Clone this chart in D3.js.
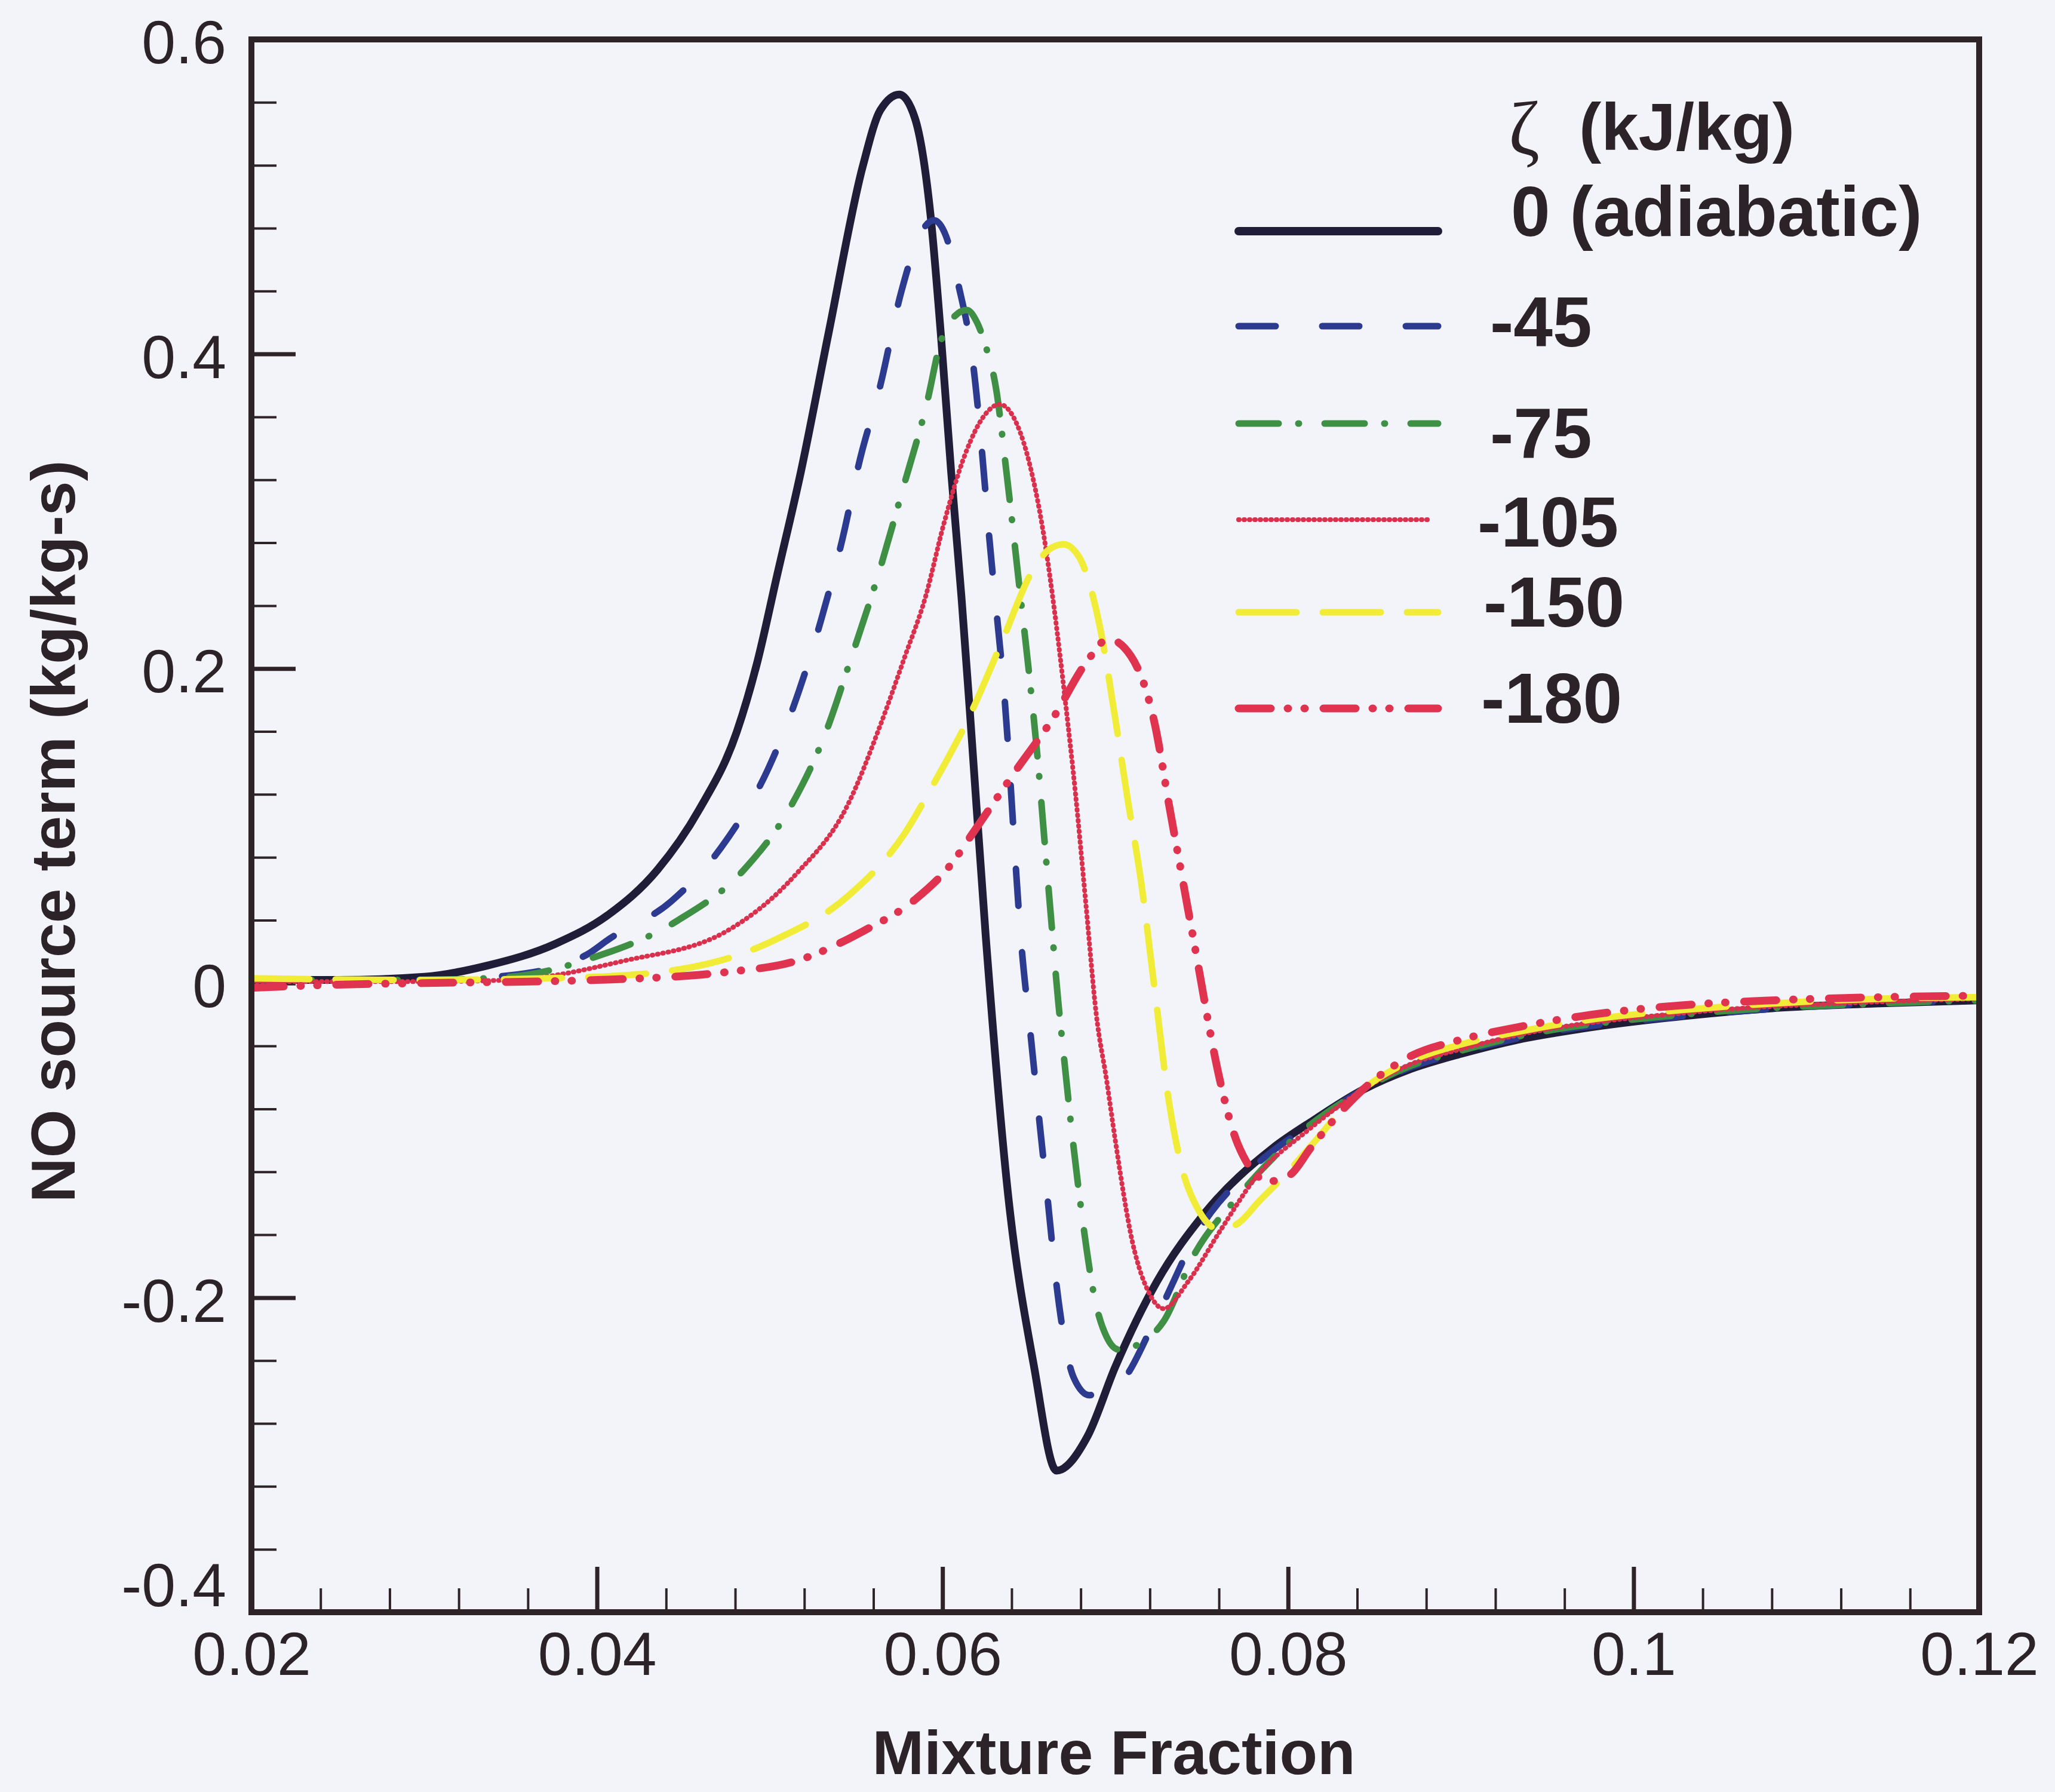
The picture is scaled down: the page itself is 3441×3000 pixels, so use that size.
<!DOCTYPE html>
<html><head><meta charset="utf-8">
<script src="https://cdn.jsdelivr.net/npm/d3@7"></script>
<style>
html,body{margin:0;padding:0;background:#f3f4f9;}
svg{display:block;}
</style></head><body>
<svg id="chart" width="3441" height="3000"></svg>
<script>
// ---------------- DATA ----------------
const xTickValues = [0.02, 0.04, 0.06, 0.08, 0.10, 0.12];
const xTickLabels = ["0.02", "0.04", "0.06", "0.08", "0.1", "0.12"];
const yTickValues = [0.6, 0.4, 0.2, 0, -0.2, -0.4];
const yTickLabels = ["0.6", "0.4", "0.2", "0", "-0.2", "-0.4"];
const xAxisTitle = "Mixture Fraction";
const yAxisTitle = "NO source term (kg/kg-s)";
const legendTitleSymbol = "ζ";
const legendTitleUnit = "(kJ/kg)";
const seriesNames = ["0 (adiabatic)", "-45", "-75", "-105", "-150", "-180"];

const adiabaticX = [0.020, 0.025, 0.030, 0.0336, 0.0376, 0.0406, 0.0435, 0.0459, 0.0481, 0.0493, 0.0504, 0.0518, 0.0534, 0.0554, 0.0564, 0.0575, 0.0584, 0.0593, 0.0599, 0.0605, 0.0611, 0.0616, 0.0625, 0.0638, 0.0653, 0.0666, 0.0684, 0.0700, 0.0724, 0.0752, 0.0791, 0.0815, 0.0843, 0.0870, 0.0900, 0.0933, 0.0970, 0.1029, 0.1080, 0.1140, 0.1200];
const adiabaticY = [0.002, 0.002, 0.004, 0.011, 0.025, 0.043, 0.072, 0.110, 0.160, 0.205, 0.258, 0.325, 0.413, 0.520, 0.555, 0.565, 0.550, 0.489, 0.413, 0.325, 0.245, 0.170, 0.030, -0.135, -0.244, -0.310, -0.288, -0.244, -0.190, -0.146, -0.105, -0.087, -0.068, -0.055, -0.045, -0.036, -0.029, -0.021, -0.016, -0.013, -0.011];

const m45X = [0.020, 0.030, 0.035, 0.0394, 0.0407, 0.0443, 0.0475, 0.0499, 0.0517, 0.0530, 0.0542, 0.0552, 0.0564, 0.0576, 0.0588, 0.0595, 0.0602, 0.0609, 0.0618, 0.0623, 0.0627, 0.0636, 0.0646, 0.0651, 0.0656, 0.0661, 0.0666, 0.0676, 0.0685, 0.0702, 0.0724, 0.0748, 0.0780, 0.0810, 0.0843, 0.0870, 0.0900, 0.0933, 0.1029, 0.1140, 0.1200];
const m45Y = [0.002, 0.002, 0.005, 0.018, 0.028, 0.052, 0.091, 0.136, 0.186, 0.232, 0.282, 0.332, 0.380, 0.439, 0.478, 0.485, 0.475, 0.445, 0.391, 0.336, 0.284, 0.180, 0.020, -0.033, -0.087, -0.139, -0.192, -0.251, -0.262, -0.255, -0.212, -0.158, -0.117, -0.092, -0.068, -0.054, -0.044, -0.035, -0.021, -0.013, -0.011];

const m75X = [0.020, 0.030, 0.035, 0.0396, 0.0447, 0.0485, 0.0513, 0.0533, 0.0546, 0.0564, 0.0577, 0.0591, 0.0599, 0.0607, 0.0614, 0.0620, 0.0625, 0.0631, 0.0637, 0.0645, 0.0650, 0.0655, 0.0659, 0.0663, 0.0667, 0.0670, 0.0675, 0.0681, 0.0688, 0.0695, 0.0702, 0.0716, 0.0728, 0.0745, 0.0770, 0.0800, 0.0843, 0.0870, 0.0900, 0.0933, 0.1029, 0.1140, 0.1200];
const m75Y = [0.002, 0.002, 0.004, 0.0156, 0.040, 0.072, 0.114, 0.161, 0.203, 0.264, 0.314, 0.369, 0.408, 0.424, 0.428, 0.420, 0.405, 0.378, 0.325, 0.247, 0.198, 0.1435, 0.091, 0.039, -0.012, -0.044, -0.096, -0.150, -0.200, -0.225, -0.233, -0.228, -0.215, -0.174, -0.137, -0.102, -0.068, -0.053, -0.043, -0.034, -0.020, -0.013, -0.011];

const m105X = [0.020, 0.030, 0.035, 0.0415, 0.0475, 0.0515, 0.0545, 0.0564, 0.0578, 0.0590, 0.0601, 0.0613, 0.0625, 0.0633, 0.0641, 0.0649, 0.0659, 0.0665, 0.0671, 0.0677, 0.0683, 0.0689, 0.0695, 0.0700, 0.0710, 0.0720, 0.0728, 0.0742, 0.0761, 0.0781, 0.0811, 0.0843, 0.0870, 0.0900, 0.0933, 0.1029, 0.1140, 0.1200];
const m105Y = [0.001, 0.001, 0.002, 0.014, 0.033, 0.069, 0.113, 0.164, 0.207, 0.245, 0.293, 0.336, 0.362, 0.368, 0.360, 0.336, 0.282, 0.235, 0.180, 0.120, 0.050, -0.020, -0.062, -0.100, -0.165, -0.198, -0.207, -0.190, -0.157, -0.124, -0.094, -0.068, -0.052, -0.042, -0.033, -0.019, -0.012, -0.010];

const m150X = [0.020, 0.030, 0.040, 0.0465, 0.0505, 0.0545, 0.0578, 0.0594, 0.0614, 0.0634, 0.0652, 0.0662, 0.0670, 0.0679, 0.0691, 0.0700, 0.0707, 0.0715, 0.0723, 0.0731, 0.0738, 0.0748, 0.0761, 0.0772, 0.0783, 0.0800, 0.0816, 0.0830, 0.0843, 0.0870, 0.0900, 0.0933, 0.0970, 0.1029, 0.1080, 0.1140, 0.1200];
const m150Y = [0.003, 0.002, 0.004, 0.0125, 0.0285, 0.055, 0.095, 0.125, 0.166, 0.216, 0.262, 0.276, 0.279, 0.271, 0.227, 0.168, 0.118, 0.064, -0.006, -0.075, -0.115, -0.144, -0.157, -0.152, -0.139, -0.120, -0.100, -0.082, -0.068, -0.050, -0.039, -0.031, -0.024, -0.017, -0.013, -0.010, -0.009];

const m180X = [0.020, 0.025, 0.030, 0.040, 0.0475, 0.0515, 0.0554, 0.0584, 0.0606, 0.0617, 0.0643, 0.0664, 0.0683, 0.0696, 0.0709, 0.0723, 0.0731, 0.0740, 0.0749, 0.0754, 0.0760, 0.0771, 0.0789, 0.0801, 0.0813, 0.0828, 0.0843, 0.0870, 0.0900, 0.0933, 0.0970, 0.1029, 0.1080, 0.1140, 0.1200];
const m180Y = [-0.003, -0.001, 0.000, 0.002, 0.007, 0.014, 0.033, 0.053, 0.077, 0.0945, 0.136, 0.1685, 0.2035, 0.2187, 0.208, 0.164, 0.114, 0.0595, 0.005, -0.026, -0.059, -0.1026, -0.126, -0.122, -0.105, -0.085, -0.068, -0.047, -0.036, -0.028, -0.021, -0.014, -0.011, -0.009, -0.008];

// ---------------- LAYOUT / STYLE ----------------
const W = 3441, H = 3000;
const PL = 421, PR = 3314, PT = 66, PB = 2699;
const FONT = "'Liberation Sans', Arial, Helvetica, sans-serif";
const TXT = "#2b2327", AX = "#2e2428", BG = "#f3f4f9";

const styles = [
  {color: "#1f1d38", width: 13, dash: null},
  {color: "#2c3a8f", width: 11, dash: "62,78"},
  {color: "#3f8f45", width: 11, dash: "67,33,1,43"},
  {color: "#d8304d", width: 8,  dash: "1,8"},
  {color: "#f0ec38", width: 11, dash: "97,44"},
  {color: "#e0334f", width: 13, dash: "54,28,1,27,1,31"}
];
const seriesX = [adiabaticX, m45X, m75X, m105X, m150X, m180X];
const seriesY = [adiabaticY, m45Y, m75Y, m105Y, m150Y, m180Y];

const legendLineY = [387, 546, 709, 870, 1025, 1186];
const legendTextX = [2530, 2495, 2495, 2474, 2484, 2480];
const legendTextY = [395, 580, 766, 915, 1049, 1210];

const svg = d3.select('#chart');
svg.append('rect').attr('width', W).attr('height', H).attr('fill', BG);

const x = d3.scaleLinear().domain([0.02, 0.12]).range([PL, PR]);
const y = d3.scaleLinear().domain([-0.4, 0.6]).range([PB, PT]);

// clip
svg.append('clipPath').attr('id', 'clip').append('rect')
  .attr('x', PL).attr('y', PT).attr('width', PR - PL).attr('height', PB - PT);

// minor ticks
const xMinor = d3.range(0, 26).map(i => +(0.02 + i * 0.004).toFixed(4)).filter(v => !xTickValues.some(t => Math.abs(t - v) < 1e-9));
const yMinor = d3.range(0, 26).map(i => +(-0.4 + i * 0.04).toFixed(4)).filter(v => !yTickValues.some(t => Math.abs(t - v) < 1e-9));

const gxMinor = svg.append('g').attr('transform', `translate(0,${PB})`)
  .call(d3.axisBottom(x).tickValues(xMinor).tickSize(-40).tickFormat(''));
const gx = svg.append('g').attr('transform', `translate(0,${PB})`)
  .call(d3.axisBottom(x).tickValues(xTickValues).tickSize(-76).tickPadding(33)
    .tickFormat((d, i) => xTickLabels[i]));
const gyMinor = svg.append('g').attr('transform', `translate(${PL},0)`)
  .call(d3.axisLeft(y).tickValues(yMinor).tickSize(-42).tickFormat(''));
const gy = svg.append('g').attr('transform', `translate(${PL},0)`)
  .call(d3.axisLeft(y).tickValues(yTickValues).tickSize(-74).tickPadding(42)
    .tickFormat((d, i) => yTickLabels[i]));

[gxMinor, gx, gyMinor, gy].forEach(g => g.select('.domain').remove());
[gxMinor, gyMinor].forEach(g => g.selectAll('.tick line').attr('stroke', AX).attr('stroke-width', 4));
[gx, gy].forEach(g => g.selectAll('.tick line').attr('stroke', AX).attr('stroke-width', 7));
[gx, gy].forEach(g => g.selectAll('.tick text')
  .attr('fill', TXT).style('font-family', FONT).style('font-size', '102px'));
gy.selectAll('.tick text').attr('dy', (d) => d === -0.4 ? '-0.1em' : '0.39em');

// curves
const line = d3.line().x(d => x(d[0])).y(d => y(d[1])).curve(d3.curveMonotoneX);
const gc = svg.append('g').attr('clip-path', 'url(#clip)');
seriesX.forEach((xs, i) => {
  const pts = xs.map((v, j) => [v, seriesY[i][j]]);
  const p = gc.append('path').datum(pts)
    .attr('d', line).attr('fill', 'none')
    .attr('stroke', styles[i].color).attr('stroke-width', styles[i].width)
    .attr('stroke-linecap', 'round').attr('stroke-linejoin', 'round');
  if (styles[i].dash) p.attr('stroke-dasharray', styles[i].dash);
});

// frame
svg.append('rect').attr('x', PL).attr('y', PT).attr('width', PR - PL).attr('height', PB - PT)
  .attr('fill', 'none').attr('stroke', AX).attr('stroke-width', 10);

// axis titles
svg.append('text').attr('x', 1865).attr('y', 2970).attr('text-anchor', 'middle')
  .style('font-family', FONT).style('font-size', '104px').style('font-weight', 'bold')
  .attr('fill', TXT).text(xAxisTitle);
svg.append('text').attr('transform', 'translate(125,1392) rotate(-90)').attr('text-anchor', 'middle')
  .style('font-family', FONT).style('font-size', '104px').style('font-weight', 'bold')
  .attr('fill', TXT).text(yAxisTitle);

// legend
const lg = svg.append('g');
lg.append('text').attr('x', 2526).attr('y', 258)
  .style('font-family', "'Liberation Serif', 'Times New Roman', serif").style('font-size', '126px')
  .attr('fill', TXT).text(legendTitleSymbol);
lg.append('text').attr('x', 2644).attr('y', 251)
  .style('font-family', FONT).style('font-size', '112px').style('font-weight', 'bold')
  .attr('fill', TXT).text(legendTitleUnit);
seriesNames.forEach((name, i) => {
  const l = lg.append('line').attr('x1', 2074).attr('x2', i === 3 ? 2392 : 2408)
    .attr('y1', legendLineY[i]).attr('y2', legendLineY[i])
    .attr('stroke', styles[i].color).attr('stroke-width', i === 0 ? 14 : styles[i].width)
    .attr('stroke-linecap', 'round');
  if (styles[i].dash) l.attr('stroke-dasharray', styles[i].dash);
  lg.append('text').attr('x', legendTextX[i]).attr('y', legendTextY[i])
    .style('font-family', FONT).style('font-size', '118px').style('font-weight', 'bold')
    .attr('fill', TXT).text(name);
});
</script>
</body></html>
